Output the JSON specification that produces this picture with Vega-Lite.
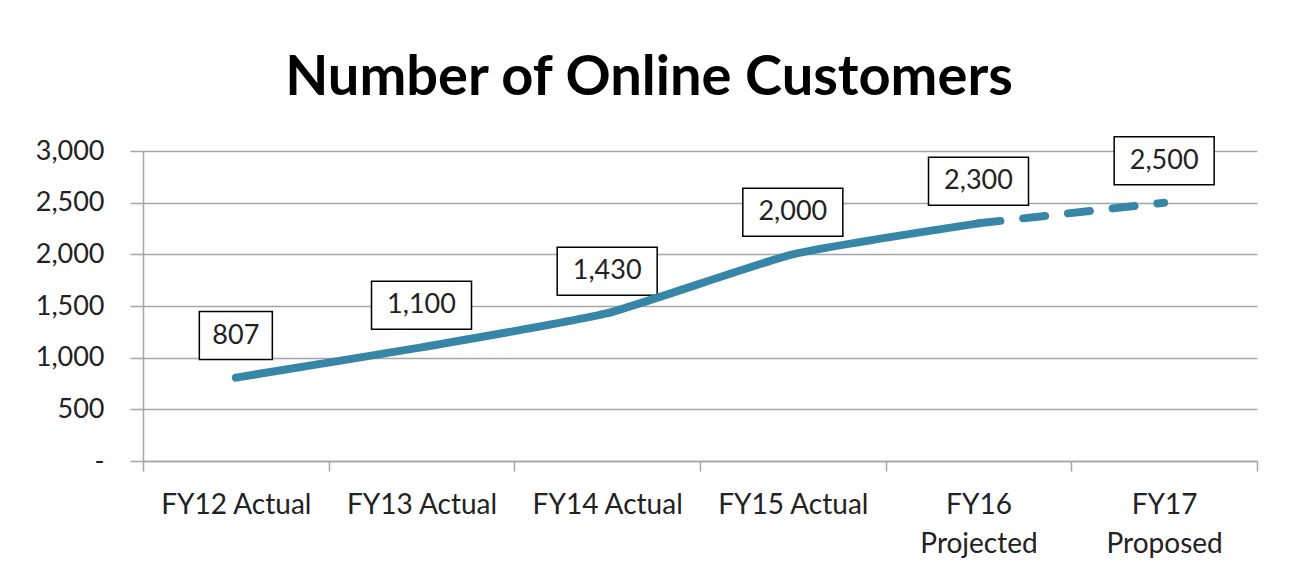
{
  "$schema": "https://vega.github.io/schema/vega-lite/v6.json",
  "autosize": {"type": "none"},
  "padding": {"left": 143, "top": 151, "right": 38, "bottom": 116},
  "width": 1114,
  "height": 310,
  "background": "white",
  "title": {
    "text": "Number of Online Customers",
    "font": "Lato",
    "fontSize": 56,
    "fontWeight": "bold",
    "color": "#000000",
    "anchor": "middle",
    "frame": "group",
    "baseline": "alphabetic",
    "offset": 40,
    "dx": -51,
    "dy": 57
  },
  "data": {
    "values": [
      {"year": "FY12 Actual", "customers": 807},
      {"year": "FY13 Actual", "customers": 1100},
      {"year": "FY14 Actual", "customers": 1430},
      {"year": "FY15 Actual", "customers": 2000},
      {"year": "FY16 Projected", "customers": 2300},
      {"year": "FY17 Proposed", "customers": 2500}
    ]
  },
  "encoding": {
    "x": {
      "field": "year",
      "type": "nominal",
      "sort": null,
      "scale": {"paddingInner": 0, "paddingOuter": 0},
      "axis": {
        "title": null,
        "labelAngle": 0,
        "tickBand": "extent",
        "tickSize": 10,
        "tickColor": "#a6a6a6",
        "tickWidth": 1.5,
        "domainColor": "#a6a6a6",
        "domainWidth": 1.5,
        "labelFont": "Lato",
        "labelFontSize": 28,
        "labelColor": "#222222",
        "labelPadding": 20,
        "labelBaseline": "top",
        "labelLineHeight": 39,
        "labelExpr": "datum.value == 'FY16 Projected' ? ['FY16', 'Projected'] : datum.value == 'FY17 Proposed' ? ['FY17', 'Proposed'] : datum.value"
      }
    },
    "y": {
      "field": "customers",
      "type": "quantitative",
      "scale": {"domain": [0, 3000], "nice": false},
      "axis": {
        "title": null,
        "values": [0, 500, 1000, 1500, 2000, 2500, 3000],
        "labelExpr": "datum.value == 0 ? '-\u2007' : format(datum.value, ',')",
        "grid": true,
        "gridColor": "#a6a6a6",
        "gridWidth": 1.5,
        "tickSize": 13,
        "tickColor": "#a6a6a6",
        "tickWidth": 1.5,
        "domainColor": "#a6a6a6",
        "domainWidth": 1.5,
        "labelFont": "Lato",
        "labelFontSize": 27,
        "labelColor": "#222222",
        "labelPadding": 26
      }
    }
  },
  "layer": [
    {
      "mark": {
        "type": "point",
        "shape": "M-1,-0.48H1V0.48H-1Z",
        "size": 10000,
        "fill": "white",
        "stroke": "#000000",
        "strokeWidth": 1.5,
        "opacity": 1,
        "yOffset": -42
      },
      "encoding": {
        "shape": {
          "condition": {"test": "datum.customers < 1000", "value": "M-0.73,-0.48H0.73V0.48H-0.73Z"},
          "value": "M-1,-0.48H1V0.48H-1Z"
        }
      }
    },
    {
      "mark": {
        "type": "text",
        "font": "Lato",
        "fontSize": 27,
        "color": "#222222",
        "baseline": "middle",
        "align": "center",
        "yOffset": -42
      },
      "encoding": {
        "text": {"field": "customers", "type": "quantitative", "format": ","}
      }
    },
    {
      "transform": [{"filter": {"field": "year", "oneOf": ["FY12 Actual", "FY13 Actual", "FY14 Actual", "FY15 Actual", "FY16 Projected"]}}],
      "mark": {
        "type": "line",
        "color": "#3786a8",
        "strokeWidth": 8,
        "strokeCap": "round",
        "strokeJoin": "round",
        "interpolate": "cardinal",
        "tension": 0.5
      },
      "encoding": {}
    },
    {
      "transform": [{"filter": {"field": "year", "oneOf": ["FY16 Projected", "FY17 Proposed"]}}],
      "mark": {
        "type": "line",
        "color": "#3786a8",
        "strokeWidth": 8,
        "strokeCap": "round",
        "strokeDash": [22, 23]
      },
      "encoding": {}
    }
  ],
  "config": {
    "view": {"stroke": null}
  }
}
